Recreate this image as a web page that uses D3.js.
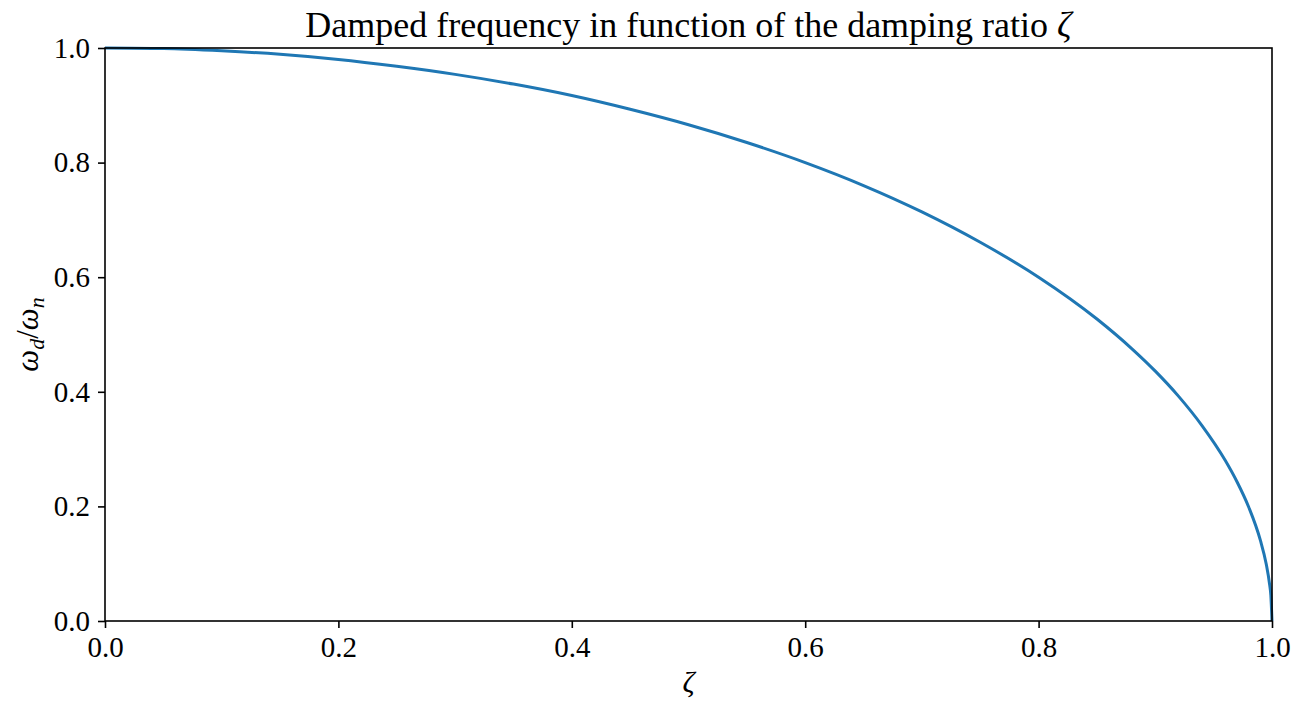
<!DOCTYPE html>
<html>
<head>
<meta charset="utf-8">
<script src="https://cdn.jsdelivr.net/npm/d3@7"></script>
<style>
  body { margin: 0; background: #fff; }
  text { font-family: "Liberation Serif", "DejaVu Serif", serif; fill: #000; }
</style>
</head>
<body>
<script>
// values
let zeta  = [0, 0.05, 0.1, 0.15, 0.2, 0.25, 0.3, 0.35, 0.4, 0.45, 0.5, 0.55, 0.6, 0.65, 0.7, 0.75, 0.8, 0.85, 0.88, 0.9, 0.92, 0.94, 0.96, 0.97, 0.98, 0.99, 0.995, 0.998, 0.999, 1.0]
let ratio = [1.0, 0.999, 0.995, 0.989, 0.980, 0.968, 0.954, 0.937, 0.917, 0.893, 0.866, 0.835, 0.800, 0.760, 0.714, 0.661, 0.600, 0.527, 0.475, 0.436, 0.392, 0.341, 0.280, 0.243, 0.199, 0.141, 0.100, 0.063, 0.045, 0.0]
let xTicks = [0, 0.2, 0.4, 0.6, 0.8, 1.0]
let yTicks = [0, 0.2, 0.4, 0.6, 0.8, 1.0]

const width = 1303, height = 704
const margin = {left: 105, right: 31, top: 48, bottom: 83}

let svg = d3.select("body").append("svg")
    .attr("width", width)
    .attr("height", height)

let x = d3.scaleLinear().domain([0, 1]).range([margin.left, width - margin.right])
let y = d3.scaleLinear().domain([0, 1]).range([height - margin.bottom, margin.top])

// curve
let line = d3.line()
    .x((d, i) => x(zeta[i]))
    .y(d => y(d))
    .curve(d3.curveMonotoneX)
svg.append("path")
    .datum(ratio)
    .attr("fill", "none")
    .attr("stroke", "#1f77b4")
    .attr("stroke-width", 3)
    .attr("d", line)

// frame
svg.append("rect")
    .attr("x", x(0)).attr("y", y(1))
    .attr("width", x(1) - x(0)).attr("height", y(0) - y(1))
    .attr("fill", "none")
    .attr("stroke", "#000")
    .attr("stroke-width", 1.6)

function styleAxis(g) {
  g.select(".domain").remove()
  g.selectAll(".tick line").attr("stroke", "#000").attr("stroke-width", 1.6)
  g.selectAll(".tick text").style("font-size", "29px").attr("fill", "#000")
}

svg.append("g")
    .attr("transform", `translate(0,${y(0)})`)
    .call(d3.axisBottom(x).tickValues(xTicks).tickSize(7).tickPadding(8).tickFormat(d3.format(".1f")))
    .call(styleAxis)

svg.append("g")
    .attr("transform", `translate(${x(0)},0)`)
    .call(d3.axisLeft(y).tickValues(yTicks).tickSize(7).tickPadding(8).tickFormat(d3.format(".1f")))
    .call(styleAxis)

// title
let title = svg.append("text")
    .attr("x", (x(0) + x(1)) / 2)
    .attr("y", 37)
    .attr("text-anchor", "middle")
    .style("font-size", "36px")
title.append("tspan").text("Damped frequency in function of the damping ratio ")
title.append("tspan").style("font-style", "italic").text("ζ")

// x label
svg.append("text")
    .attr("x", (x(0) + x(1)) / 2)
    .attr("y", 692)
    .attr("text-anchor", "middle")
    .style("font-size", "30px")
    .style("font-style", "italic")
    .text("ζ")

// y label
let yl = svg.append("text")
    .attr("transform", `translate(38,${(y(0) + y(1)) / 2}) rotate(-90)`)
    .attr("text-anchor", "middle")
    .style("font-size", "31px")
    .style("font-style", "italic")
yl.append("tspan").text("ω")
yl.append("tspan").attr("dy", 6).style("font-size", "22px").text("d")
yl.append("tspan").attr("dy", -6).style("font-style", "normal").text("/")
yl.append("tspan").text("ω")
yl.append("tspan").attr("dy", 6).style("font-size", "22px").text("n")
</script>
</body>
</html>
